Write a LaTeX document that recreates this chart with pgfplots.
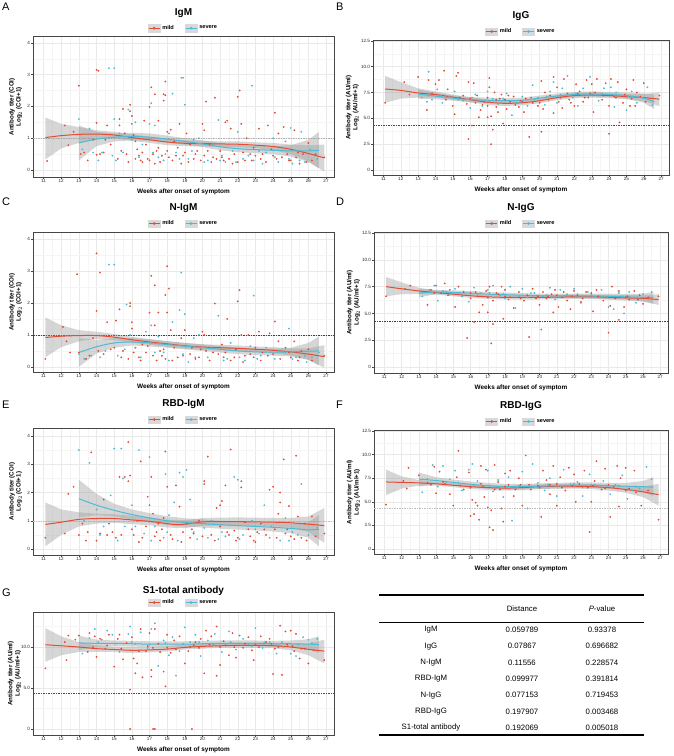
\documentclass[border=0pt]{standalone}
\usepackage{fontspec}
\setmainfont{Liberation Sans}
\usepackage{pgfplots}
\pgfplotsset{compat=1.18}
\definecolor{mildc}{HTML}{E64B35}
\definecolor{sevc}{HTML}{4DBBD5}
\definecolor{bandc}{HTML}{999999}
\pgfplotsset{
  panel/.style={
    scale only axis, anchor=south west,
    xmin=10.4, xmax=27.45,
    xtick={11,...,27}, minor xtick={11.5,12.5,...,26.5},
    grid=both, major grid style={gray!17, line width=0.35pt}, minor grid style={gray!8, line width=0.3pt},
    axis line style={gray!55!black, line width=0.6pt},
    tick pos=left, tick align=outside, major tick length=1.6pt, minor tick length=0pt,
    tick style={gray!55!black, line width=0.4pt},
    ticklabel style={font=\fontsize{4.6}{5}\selectfont, text=black!85},
    xticklabel style={inner sep=0.4pt},
    yticklabel style={inner sep=1.2pt},
    /pgf/number format/assume math mode=true,
    xlabel={Weeks after onset of symptom},
    xlabel style={font=\bfseries\fontsize{6.4}{7}\selectfont, at={(axis description cs:0.5,0)}, anchor=center, yshift=-15pt},
    title style={font=\bfseries\fontsize{10}{11}\selectfont, at={(axis description cs:0.5,1)}, anchor=center, yshift=18pt},
    legend style={at={(axis description cs:0.5,1)}, anchor=center, yshift=8.5pt, draw=none, fill=none,
      font=\bfseries\fontsize{5.6}{6}\selectfont, legend columns=2,
      /tikz/every even column/.append style={column sep=9pt}, inner sep=0pt},
    legend cell align=left,
  },
  coi/.style={ytick={0,1,2,3,4}, minor ytick={0.5,1.5,2.5,3.5},
    ylabel={Antibody titer (COI)\\Log$_2$ (COI+1)},
    ylabel style={font=\bfseries\fontsize{6.2}{7.2}\selectfont, align=center, anchor=center, at={(axis description cs:-0.058,0.5)}}},
  au/.style={ytick={0,2.5,5,7.5,10,12.5}, yticklabels={0,2.5,5.0,7.5,10.0,12.5}, minor ytick={1.25,3.75,6.25,8.75,11.25},
    ylabel={Antibody titer (AU/ml)\\Log$_2$ (AU/ml+1)},
    ylabel style={font=\bfseries\fontsize{6.2}{7.2}\selectfont, align=center, anchor=center, at={(axis description cs:-0.07,0.5)}}},
  mildleg/.style={legend image code/.code={
     \fill[gray!30] (0pt,-3.8pt) rectangle (12pt,3.8pt);
     \draw[mildc, line width=0.9pt] (0.5pt,0pt) -- (11.5pt,0pt);
     \fill[mildc] (6pt,0pt) circle (1.1pt);}},
  sevleg/.style={legend image code/.code={
     \fill[gray!30] (0pt,-3.8pt) rectangle (12pt,3.8pt);
     \draw[sevc, line width=0.9pt] (0.5pt,0pt) -- (11.5pt,0pt);
     \fill[sevc] (6pt,0pt) circle (1.1pt);}},
  mpts/.style={only marks, mark=*, mark size=0.7pt, mildc, mark options={draw=none, fill=mildc, fill opacity=0.9}, forget plot},
  spts/.style={only marks, mark=*, mark size=0.7pt, sevc, mark options={draw=none, fill=sevc, fill opacity=0.9}, forget plot},
  bfill/.style={fill=bandc, fill opacity=0.4, draw=none, no marks, forget plot},
  mline/.style={mildc, line width=1pt, smooth, no marks, forget plot},
  sline/.style={sevc, line width=1pt, smooth, no marks, forget plot},
  dashl/.style={gray!60, dash pattern=on 1.5pt off 1pt, line width=0.5pt, no marks, forget plot},
}
\newcommand{\legs}{\addlegendimage{mildleg}\addlegendentry{mild}\addlegendimage{sevleg}\addlegendentry{severe}}
\begin{document}
\begin{tikzpicture}
\path[use as bounding box] (0,0) rectangle (674pt,-756pt);
\tikzset{plab/.style={anchor=north west, font=\fontsize{11}{11}\selectfont, inner sep=0pt}}
\node[plab] at (2pt,-3pt) {A};
\node[plab] at (336pt,-3pt) {B};
\node[plab] at (2pt,-198pt) {C};
\node[plab] at (336pt,-198pt) {D};
\node[plab] at (2pt,-401pt) {E};
\node[plab] at (336pt,-401pt) {F};
\node[plab] at (2pt,-589pt) {G};

% ---------------- A ----------------
\begin{axis}[panel, coi, at={(33pt,-177pt)}, width=301pt, height=140.3pt, ymin=-0.22, ymax=4.19, title={IgM}]
\legs
\addplot[mpts] coordinates {(11.2,0.28)(12.2,1.4)(12.4,0.78)(12.7,1.2)(13,2.65)(13.3,0.55)(13.5,0.3)(13.8,0.95)(14,3.15)(14.1,3.12)(14,1.48)(14,0.48)(14.2,0.5)(14.4,0.55)(14.6,1.4)(14.8,0.8)(15.2,0.35)(15.3,1.6)(15.3,1.4)(15.5,1.92)(15.6,1.15)(15.8,0.25)(15.9,2.05)(15.9,1.85)(16,1.7)(16,1.45)(16.1,1.1)(16.2,0.9)(16.3,0.65)(16.4,0.45)(16.5,0.3)(16.6,0.55)(16.7,1.55)(16.8,0.8)(17,1.98)(17.1,2.6)(17.3,2.38)(17.2,0.5)(17.3,0.2)(17.5,1.55)(17.5,0.7)(17.7,0.45)(17.8,2.18)(17.8,2.38)(17.9,2.78)(17.9,2.35)(18,1.2)(18,0.6)(18.2,1.27)(18.4,0.9)(18.5,0.45)(18.7,1.45)(18.8,0.2)(19,0.55)(19.1,1.15)(19.3,0.8)(19.5,0.35)(19.9,0.3)(20,1.45)(20.1,1.25)(20.1,0.45)(20.2,2.15)(20.4,0.8)(20.6,0.4)(20.7,2.27)(21,0.6)(21.2,0.3)(21.3,1.5)(21.4,1.55)(21.6,1.3)(21.7,0.2)(21.8,0.5)(22,2.3)(22.1,2.5)(22.2,1.45)(22.4,0.3)(22.5,1.0)(22.7,0.5)(23,0.45)(23.2,1.3)(23.4,0.5)(23.7,1.4)(23.9,0.65)(24,0.45)(24.1,1.8)(24.3,1.15)(24.6,1.35)(24.8,0.5)(25,0.3)(25.2,1.25)(25.4,0.55)(25.5,0.2)(25.7,0.5)(26,0.85)(26.2,0.3)(26.9,0.4)(16.9,0.35)(18.6,0.7)(19.7,0.6)(20.8,0.35)(22.9,0.7)(24.5,0.4)};
\addplot[mpts] coordinates {(13.1,0.5)(14.5,0.95)(15.4,0.6)(15.7,0.5)(16.2,0.35)(16.6,0.25)(17.0,0.3)(17.4,0.6)(17.6,0.25)(18.1,0.4)(18.3,0.3)(18.9,0.45)(19.2,0.25)(19.6,0.5)(20.3,0.6)(20.5,0.25)(21.1,0.4)(21.5,0.35)(22.0,0.25)(22.3,0.55)(22.8,0.3)(23.3,0.35)(23.6,0.25)(24.2,0.35)(24.9,0.3)(25.3,0.4)(25.9,0.25)(26.4,0.5)};
\addplot[spts] coordinates {(13,1.6)(13.2,0.65)(13.6,1.3)(13.8,0.55)(14.3,0.55)(14.7,3.2)(15,3.2)(14.9,0.45)(15,1.6)(15.1,0.3)(15.3,1.15)(15.8,1.9)(16,0.95)(16.2,1.5)(16.6,0.8)(17,1.45)(17.1,2.1)(17.3,1.4)(17.5,0.4)(17.8,0.3)(18.1,1.15)(18.3,2.4)(18.5,0.55)(18.8,2.9)(18.9,2.9)(19,2.05)(19.2,0.35)(19.5,0.95)(19.8,1.0)(20.3,0.3)(20.6,0.8)(20.9,1.57)(21.1,0.45)(21.3,0.25)(21.7,0.6)(22,1.2)(22.3,0.35)(22.8,2.65)(22.9,0.3)(23.2,0.6)(23.6,0.55)(24,1.0)(24.3,0.25)(24.7,0.9)(25,1.32)(25.1,0.2)(25.6,1.2)(25.5,0.3)(26.1,0.65)(26.5,0.35)(14.1,0.3)(15.5,0.55)(16.4,0.4)(17.2,0.55)(17.9,0.5)(18.7,0.35)(19.4,0.6)(20.1,0.25)(21.0,0.3)(21.9,0.25)(22.6,0.45)(23.4,0.2)(24.1,0.4)(24.9,0.35)(25.8,0.25)};
\addplot[dashl] coordinates {(10.4,1)(27.45,1)};
\addplot[bfill] coordinates {(11.1,1.65)(12,1.45)(13,1.35)(14,1.25)(15,1.2)(16,1.12)(17,1.05)(18,0.98)(19,0.93)(20,0.92)(21,0.9)(22,0.9)(23,0.87)(24,0.85)(25,0.8)(26,0.78)(26.9,0.8)(26.9,-0.05)(26,0.27)(25,0.5)(24,0.63)(23,0.69)(22,0.72)(21,0.73)(20,0.74)(19,0.75)(18,0.78)(17,0.85)(16,0.92)(15,1.0)(14,1.0)(13,0.85)(12,0.68)(11.1,0.33)} -- cycle;
\addplot[bfill] coordinates {(13,1.4)(14,1.2)(15,1.15)(16,1.17)(17,1.15)(18,1.08)(19,1.0)(20,0.93)(21,0.84)(22,0.78)(23,0.75)(24,0.75)(25,0.78)(26,0.95)(26.6,1.2)(26.6,0.05)(26,0.25)(25,0.42)(24,0.5)(23,0.53)(22,0.56)(21,0.62)(20,0.72)(19,0.8)(18,0.86)(17,0.92)(16,0.93)(15,0.9)(14,0.75)(13,0.3)} -- cycle;
\addplot[mline] coordinates {(11.1,1.02)(12,1.08)(13,1.12)(14,1.13)(15,1.1)(16,1.02)(17,0.95)(18,0.88)(19,0.84)(20,0.83)(21,0.82)(22,0.81)(23,0.78)(24,0.74)(25,0.65)(26,0.52)(26.9,0.38)};
\addplot[sline] coordinates {(13,0.85)(14,0.97)(15,1.03)(16,1.06)(17,1.03)(18,0.97)(19,0.9)(20,0.82)(21,0.73)(22,0.67)(23,0.64)(24,0.62)(25,0.6)(26,0.6)(26.6,0.62)};
\end{axis}

% ---------------- B ----------------
\begin{axis}[panel, au, at={(373pt,-175pt)}, width=296pt, height=135pt, ymin=-0.48, ymax=12.57, title={IgG}]
\legs
\addplot[mpts] coordinates {(11.1,6.5)(12.2,8.5)(12.5,7.3)(13,9.0)(13.5,5.8)(13.6,8.7)(14,8.3)(14.2,8.7)(14.5,9.6)(14.7,7.8)(15,6.2)(15.1,5.4)(15.2,9.1)(15.3,9.4)(15.6,7.2)(15.9,3.0)(15.9,8.5)(16,6.9)(16.1,4.3)(16.2,8.4)(16.3,6.5)(16.5,5.1)(16.6,5.8)(16.8,6.6)(17,5.1)(17,7.0)(17.1,8.9)(17.1,8.0)(17.2,5.2)(17.2,2.5)(17.3,3.9)(17.4,7.5)(17.5,6.1)(17.6,5.6)(17.8,7.3)(17.9,4.5)(18,6.8)(18.1,5.9)(18.3,6.6)(18.5,7.1)(18.8,6.1)(19.1,5.6)(19.2,6.9)(19.4,3.2)(19.6,6.5)(19.9,6.2)(20.1,3.7)(20.1,8.6)(20.2,5.9)(20.3,7.5)(20.5,6.8)(20.8,5.5)(20.8,9.0)(21.0,8.0)(21.3,6.0)(21.4,8.8)(21.6,7.4)(21.8,6.5)(22,6.2)(22.1,8.3)(22.3,7.6)(22.5,6.6)(22.7,8.7)(22.9,7.4)(23.0,8.3)(23.1,5.6)(23.3,8.8)(23.6,6.8)(23.8,8.4)(24,6.2)(24,3.5)(24.1,8.8)(24.3,7.1)(24.5,8.5)(24.6,4.6)(24.8,6.5)(25,7.8)(25.2,6.2)(25.4,8.7)(25.5,6.2)(25.6,7.5)(26,8.4)(26.1,6.6)(26.9,7.2)(16.7,6.3)(17.7,6.9)(18.9,6.7)(21.1,6.6)(22.8,7.0)};
\addplot[mpts] coordinates {(13.8,7.4)(14.6,6.8)(15.4,7.0)(15.8,6.4)(16.4,7.2)(17.0,6.2)(17.5,6.8)(18.2,7.2)(18.6,6.3)(19.0,6.6)(19.5,7.0)(20.0,6.5)(20.6,7.2)(21.2,7.0)(21.7,6.8)(22.2,7.4)(22.6,7.0)(23.2,7.5)(23.7,7.2)(24.4,7.0)(24.9,7.3)(25.3,6.9)(25.8,7.1)};
\addplot[spts] coordinates {(13.2,7.0)(13.5,6.6)(13.6,9.5)(13.8,6.8)(14.1,7.8)(14.4,6.5)(14.8,7.1)(15.1,7.6)(15.6,6.7)(16,6.0)(16.3,7.3)(16.7,6.2)(17.0,7.6)(17.3,6.9)(17.6,6.4)(18.1,7.4)(18.4,5.3)(18.7,6.5)(19.0,7.1)(19.3,6.2)(19.6,8.2)(19.9,7.0)(20.3,6.3)(20.6,7.6)(20.8,8.5)(21.0,6.5)(21.3,7.9)(21.6,9.1)(21.9,7.0)(22.2,6.2)(22.5,7.9)(22.9,9.0)(23.1,7.4)(23.4,6.7)(23.7,7.9)(24.1,8.0)(24.3,6.1)(24.6,7.2)(25,5.8)(25.3,7.6)(25.6,6.5)(26.2,8.0)(26.5,6.3)(14.3,7.2)(15.3,6.8)(16.1,7.0)(17.1,6.6)(17.9,6.9)(18.9,6.6)(19.7,6.8)(20.4,7.1)(21.2,7.3)(22.1,7.4)(22.8,7.2)(23.6,7.4)(24.4,7.5)(25.1,7.1)(25.9,7.0)};
\addplot[dashl, black!70] coordinates {(10.4,4.3)(27.45,4.3)};
\addplot[bfill] coordinates {(11.1,9.1)(12,8.5)(13,7.9)(14,7.6)(15,7.3)(16,7.05)(17,6.8)(18,6.7)(19,6.75)(20,6.95)(21,7.25)(22,7.45)(23,7.5)(24,7.45)(25,7.35)(26,7.35)(26.9,7.5)(26.9,6.2)(26,6.65)(25,6.85)(24,6.95)(23,7.0)(22,6.95)(21,6.75)(20,6.45)(19,6.25)(18,6.2)(17,6.3)(16,6.55)(15,6.8)(14,7.0)(13,7.0)(12,6.9)(11.1,6.5)} -- cycle;
\addplot[bfill] coordinates {(13,7.8)(14,7.45)(15,7.2)(16,7.05)(17,7.0)(18,6.95)(19,7.0)(20,7.2)(21,7.4)(22,7.55)(23,7.6)(24,7.55)(25,7.5)(26,7.4)(26.6,7.3)(26.6,5.9)(26,6.5)(25,6.9)(24,7.05)(23,7.1)(22,7.05)(21,6.9)(20,6.7)(19,6.5)(18,6.45)(17,6.5)(16,6.55)(15,6.7)(14,6.85)(13,6.9)} -- cycle;
\addplot[mline] coordinates {(11.1,7.83)(12,7.7)(13,7.45)(14,7.3)(15,7.05)(16,6.8)(17,6.55)(18,6.45)(19,6.5)(20,6.7)(21,7.0)(22,7.2)(23,7.25)(24,7.2)(25,7.1)(26,7.0)(26.9,6.85)};
\addplot[sline] coordinates {(13,7.35)(14,7.15)(15,6.95)(16,6.8)(17,6.75)(18,6.7)(19,6.75)(20,6.95)(21,7.15)(22,7.3)(23,7.35)(24,7.3)(25,7.2)(26,6.95)(26.6,6.6)};
\end{axis}

% ---------------- C ----------------
\begin{axis}[panel, coi, at={(33pt,-372pt)}, width=301pt, height=140pt, ymin=-0.16, ymax=4.22, title={N-IgM}]
\legs
\addplot[mpts] coordinates {(11.1,0.25)(12.1,1.25)(12.3,0.8)(12.5,0.45)(12.9,2.9)(13.4,0.25)(13.6,0.35)(13.8,0.9)(14,3.55)(14,1.75)(14.1,0.5)(14.2,2.95)(14.4,0.4)(14.6,1.4)(15,0.6)(15.1,1.45)(15.3,1.8)(15.5,0.5)(15.8,0.25)(15.9,2.0)(15.9,1.9)(16,1.2)(16,1.4)(16.2,0.6)(16.4,0.3)(16.6,0.7)(16.8,0.45)(17,1.7)(17.1,2.85)(17.3,2.55)(17.3,1.3)(17.4,0.2)(17.5,1.7)(17.6,0.5)(17.9,0.25)(17.9,2.25)(18,3.15)(18,1.7)(18.1,2.45)(18.2,1.15)(18.4,0.6)(18.6,0.3)(18.8,0.9)(19,1.15)(19.3,0.4)(19.6,0.25)(20,1.1)(20.1,1.0)(20.2,0.5)(20.7,1.98)(20.9,0.4)(21.1,0.7)(21.4,1.5)(21.6,0.2)(21.8,0.3)(22,2.05)(22.1,2.4)(22.2,1.0)(22.4,0.35)(22.6,1.0)(22.9,0.3)(23.2,1.1)(23.4,0.45)(23.8,1.05)(24.1,1.42)(24,0.4)(24.3,0.8)(24.7,0.6)(25,0.3)(25.2,0.8)(25.4,0.2)(25.6,0.5)(26,0.55)(26.9,0.35)(16.9,0.65)(17.7,0.35)(19.9,0.55)(21.3,0.45)(23.0,0.6)};
\addplot[mpts] coordinates {(13.0,0.45)(14.8,0.55)(15.4,0.3)(16.1,0.45)(16.5,0.2)(17.2,0.35)(17.8,0.55)(18.3,0.2)(18.9,0.35)(19.4,0.6)(19.8,0.3)(20.4,0.2)(20.6,0.45)(21.2,0.3)(21.9,0.55)(22.3,0.15)(22.7,0.4)(23.3,0.2)(23.7,0.35)(24.4,0.25)(24.9,0.45)(25.5,0.3)(26.2,0.2)};
\addplot[spts] coordinates {(13,0.4)(13.3,0.25)(13.7,0.35)(14.5,0.5)(14.7,3.2)(15,3.2)(15.2,0.35)(15.7,1.95)(15.9,1.0)(16.2,0.6)(16.8,1.1)(17.1,1.3)(17.5,0.95)(17.8,0.45)(18.3,1.4)(18.7,1.78)(18.8,2.95)(19,1.65)(19.2,0.15)(19.5,0.9)(19.8,1.0)(20.3,0.3)(20.9,1.6)(21.2,0.2)(21.6,0.75)(22.1,0.3)(22.7,0.65)(22.9,2.23)(23.1,0.25)(23.6,0.6)(24.1,0.25)(24.7,0.45)(24.9,1.2)(25.3,0.3)(25.8,0.35)(26.2,0.3)(26.6,0.45)(14.2,0.3)(15.6,0.55)(16.5,0.3)(17.3,0.45)(18.1,0.2)(18.9,0.4)(19.6,0.3)(20.5,0.6)(21.4,0.25)(22.4,0.2)(23.3,0.35)(24.3,0.5)(25.1,0.25)(25.9,0.15)};
\addplot[dashl, black!75] coordinates {(10.4,1)(27.45,1)};
\addplot[bfill] coordinates {(11.1,1.55)(12,1.3)(13,1.15)(14,1.1)(15,1.03)(16,0.94)(17,0.87)(18,0.81)(19,0.75)(20,0.71)(21,0.69)(22,0.67)(23,0.64)(24,0.62)(25,0.58)(26,0.58)(26.9,0.68)(26.9,-0.02)(26,0.22)(25,0.36)(24,0.42)(23,0.46)(22,0.49)(21,0.51)(20,0.53)(19,0.57)(18,0.63)(17,0.69)(16,0.76)(15,0.84)(14,0.88)(13,0.8)(12,0.62)(11.1,0.3)} -- cycle;
\addplot[bfill] coordinates {(13,0.9)(14,0.85)(15,0.9)(16,0.9)(17,0.86)(18,0.8)(19,0.75)(20,0.7)(21,0.65)(22,0.6)(23,0.57)(24,0.57)(25,0.6)(26,0.75)(26.6,0.95)(26.6,0.05)(26,0.22)(25,0.33)(24,0.35)(23,0.37)(22,0.4)(21,0.45)(20,0.5)(19,0.55)(18,0.6)(17,0.64)(16,0.67)(15,0.6)(14,0.42)(13,0.0)} -- cycle;
\addplot[mline] coordinates {(11.1,0.92)(12,0.96)(13,0.98)(14,0.98)(15,0.93)(16,0.85)(17,0.78)(18,0.72)(19,0.66)(20,0.62)(21,0.6)(22,0.58)(23,0.55)(24,0.52)(25,0.47)(26,0.4)(26.9,0.32)};
\addplot[sline] coordinates {(13,0.45)(14,0.63)(15,0.75)(16,0.78)(17,0.75)(18,0.7)(19,0.65)(20,0.6)(21,0.55)(22,0.5)(23,0.47)(24,0.46)(25,0.47)(26,0.49)(26.6,0.5)};
\end{axis}

% ---------------- D ----------------
\begin{axis}[panel, au, at={(374pt,-373pt)}, width=294pt, height=141pt, ymin=-0.56, ymax=12.6, title={N-IgG}]
\legs
\addplot[mpts] coordinates {(11.1,6.6)(12.2,7.3)(12.5,7.6)(13.5,5.8)(13.7,7.2)(14,7.6)(14.5,7.8)(14.8,7.2)(15.1,5.6)(15.3,7.5)(15.6,7.0)(15.8,2.7)(16,6.4)(16.2,4.2)(16.3,7.0)(16.5,5.1)(16.7,5.8)(16.9,7.1)(17,5.1)(17.1,7.5)(17.2,2.2)(17.3,4.0)(17.3,6.2)(17.6,6.8)(17.8,7.5)(17.9,4.5)(18,7.2)(18.2,6.3)(18.5,5.5)(18.8,7.0)(19.1,6.2)(19.4,2.8)(19.6,7.3)(20,5.8)(20.1,3.5)(20.2,7.0)(20.5,6.6)(20.8,5.1)(20.9,7.2)(21.1,5.6)(21.4,7.0)(21.6,6.2)(21.8,5.4)(22,7.1)(22.2,6.7)(22.4,6.0)(22.7,7.0)(23.1,5.2)(23.3,7.2)(23.7,6.2)(24,3.2)(24.1,5.7)(24.2,7.5)(24.6,7.1)(24.6,4.4)(24.9,5.6)(25.2,6.3)(25.5,7.1)(25.8,6.7)(26,5.9)(26.9,6.6)(14.3,6.9)(16.0,6.9)(18.0,6.6)(19.8,6.4)(21.0,6.7)(23.0,6.9)(25.0,6.5)};
\addplot[mpts] coordinates {(13.9,6.9)(14.7,6.7)(15.5,6.6)(16.4,6.6)(17.0,6.5)(17.5,6.9)(18.3,6.5)(18.9,6.4)(19.3,6.7)(19.9,6.6)(20.4,6.4)(20.7,6.8)(21.3,6.5)(21.9,6.6)(22.5,6.4)(23.4,6.6)(23.9,6.5)(24.4,6.4)(25.1,6.6)(25.7,6.3)(26.3,6.5)};
\addplot[spts] coordinates {(13.2,6.6)(13.6,7.2)(13.9,7.6)(14.1,6.2)(14.4,7.1)(14.8,6.8)(15.1,7.3)(15.5,6.6)(15.9,6.1)(16.2,7.4)(16.6,6.9)(17.0,7.2)(17.3,7.6)(17.7,6.7)(18.0,6.4)(18.3,7.5)(18.6,5.5)(19.0,7.3)(19.3,6.5)(19.7,6.9)(20.2,6.6)(20.6,7.4)(20.9,6.3)(21.2,7.2)(21.6,6.8)(22.0,7.3)(22.4,6.1)(22.8,7.0)(23.2,6.6)(23.6,7.2)(24.0,5.6)(24.3,5.4)(24.6,6.9)(24.9,5.0)(25.2,7.0)(25.6,6.0)(26.0,6.8)(26.5,7.0)(14.6,7.0)(15.3,6.9)(16.4,6.7)(17.1,6.9)(17.9,6.8)(18.8,6.6)(19.5,6.9)(20.4,6.7)(21.4,6.6)(22.2,6.8)(23.0,6.7)(23.9,6.5)(24.8,6.6)(25.8,6.4)};
\addplot[dashl, black!75] coordinates {(10.4,4.3)(27.45,4.3)};
\addplot[bfill] coordinates {(11.1,8.4)(12,7.9)(13,7.4)(14,7.15)(15,7.0)(16,6.85)(17,6.75)(18,6.7)(19,6.7)(20,6.7)(21,6.72)(22,6.75)(23,6.75)(24,6.72)(25,6.7)(26,6.7)(26.9,6.8)(26.9,5.8)(26,6.1)(25,6.2)(24,6.28)(23,6.35)(22,6.35)(21,6.32)(20,6.3)(19,6.3)(18,6.3)(17,6.35)(16,6.45)(15,6.6)(14,6.75)(13,6.8)(12,6.8)(11.1,6.6)} -- cycle;
\addplot[bfill] coordinates {(13,7.3)(14,7.2)(15,7.15)(16,7.1)(17,7.0)(18,6.95)(19,6.9)(20,6.85)(21,6.85)(22,6.85)(23,6.85)(24,6.85)(25,6.8)(26,6.85)(26.6,7.0)(26.6,5.9)(26,6.15)(25,6.3)(24,6.35)(23,6.4)(22,6.45)(21,6.45)(20,6.45)(19,6.5)(18,6.55)(17,6.6)(16,6.7)(15,6.75)(14,6.8)(13,6.5)} -- cycle;
\addplot[mline] coordinates {(11.1,7.5)(12,7.3)(13,7.1)(14,6.95)(15,6.8)(16,6.65)(17,6.55)(18,6.5)(19,6.5)(20,6.5)(21,6.52)(22,6.55)(23,6.55)(24,6.5)(25,6.45)(26,6.4)(26.9,6.3)};
\addplot[sline] coordinates {(13,6.9)(14,7.0)(15,6.95)(16,6.9)(17,6.8)(18,6.75)(19,6.7)(20,6.65)(21,6.65)(22,6.65)(23,6.63)(24,6.6)(25,6.55)(26,6.5)(26.6,6.5)};
\end{axis}

% ---------------- E ----------------
\begin{axis}[panel, coi, at={(33pt,-555pt)}, width=301pt, height=127pt, ymin=-0.21, ymax=4.28, title={RBD-IgM}]
\legs
\addplot[mpts] coordinates {(11.1,0.4)(12.2,0.55)(12.4,1.95)(12.7,2.2)(13,0.5)(13.2,0.9)(13.5,0.6)(13.7,3.42)(14,0.3)(14.2,0.55)(14.4,1.75)(14.6,0.5)(14.9,0.6)(15.1,0.4)(15.3,2.55)(15.6,2.55)(15.8,2.4)(15.8,3.78)(15.9,2.6)(16.1,0.5)(16.3,1.0)(16.5,3.1)(16.6,0.4)(16.9,1.85)(17,1.55)(17.1,2.55)(17.2,1.25)(17.4,0.6)(17.6,0.3)(17.8,1.1)(17.9,3.45)(18,2.2)(18.2,0.5)(18.5,2.25)(18.7,1.5)(18.9,0.6)(19.1,0.9)(19.5,0.55)(19.8,1.0)(20.1,2.4)(20.1,2.3)(20.3,3.27)(20.5,0.5)(20.8,1.45)(21,1.55)(21.1,1.7)(21.3,2.25)(21.5,0.5)(21.6,3.52)(21.8,0.65)(22.2,2.4)(22.2,2.18)(22.4,0.95)(22.6,0.7)(22.9,0.3)(23.3,0.9)(23.6,0.5)(23.8,2.1)(24,2.2)(24.1,0.7)(24.3,1.25)(24.4,2.0)(24.4,1.65)(24.6,3.17)(24.9,1.52)(25,0.45)(25.3,3.3)(25.4,1.15)(25.6,0.4)(25.8,0.9)(26.2,1.15)(26.9,0.55)(16.8,0.8)(17.7,0.7)(19.3,0.4)(21.0,0.8)(22.0,0.4)(23.1,0.6)(24.8,0.7)};
\addplot[mpts] coordinates {(13.4,0.3)(14.7,0.9)(15.4,0.5)(16.0,0.7)(16.4,0.25)(17.3,0.45)(17.5,0.9)(18.3,0.35)(18.8,0.25)(19.4,0.7)(20.0,0.45)(20.7,0.3)(21.4,0.6)(21.9,0.3)(22.7,0.45)(23.0,0.25)(23.5,0.7)(24.2,0.4)(24.7,0.55)(25.2,0.35)(25.9,0.3)(26.4,0.45)};
\addplot[spts] coordinates {(13,3.5)(13.3,1.0)(13.6,3.05)(14,1.4)(14.4,0.8)(14.8,1.9)(15,3.55)(15.4,3.55)(15.5,2.5)(15.6,0.8)(16,1.55)(16.4,3.5)(16.7,0.55)(17,3.25)(17.3,0.8)(17.8,0.4)(17.9,2.65)(18.1,1.2)(18.4,1.65)(18.7,2.7)(18.9,2.55)(19.1,2.8)(19.3,1.75)(19.7,0.35)(20.1,0.75)(20.5,1.0)(20.9,0.35)(21.3,0.45)(21.8,2.55)(22.0,2.45)(22.3,0.5)(22.8,1.0)(23.2,0.55)(23.5,1.55)(23.9,0.8)(24.4,0.3)(24.7,1.1)(25.1,0.6)(25.6,2.3)(26.0,0.5)(26.5,0.75)(14.2,0.5)(15.2,0.3)(16.2,0.8)(17.1,0.3)(18.0,0.6)(18.6,0.3)(19.5,0.6)(20.3,0.4)(21.1,0.6)(22.1,0.35)(23.0,0.7)(23.8,0.4)(24.9,0.3)(25.4,0.5)};
\addplot[dashl, gray!45] coordinates {(10.4,1)(27.45,1)};
\addplot[bfill] coordinates {(11.1,1.65)(12,1.4)(13,1.3)(14,1.25)(15,1.23)(16,1.18)(17,1.12)(18,1.04)(19,1.02)(20,1.1)(21,1.11)(22,1.12)(23,1.11)(24,1.1)(25,1.1)(26,1.15)(26.9,1.45)(26.9,0.22)(26,0.6)(25,0.76)(24,0.8)(23,0.81)(22,0.83)(21,0.83)(20,0.82)(19,0.74)(18,0.76)(17,0.84)(16,0.88)(15,0.93)(14,0.9)(13,0.8)(12,0.5)(11.1,0.1)} -- cycle;
\addplot[bfill] coordinates {(13,2.45)(14,1.95)(15,1.6)(16,1.4)(17,1.27)(18,1.16)(19,1.09)(20,1.05)(21,1.0)(22,0.97)(23,0.94)(24,0.92)(25,0.9)(26,0.95)(26.6,1.2)(26.6,0.1)(26,0.4)(25,0.56)(24,0.62)(23,0.66)(22,0.69)(21,0.72)(20,0.76)(19,0.8)(18,0.85)(17,0.94)(16,1.05)(15,1.15)(14,1.2)(13,1.12)} -- cycle;
\addplot[mline] coordinates {(11.1,0.87)(12,0.95)(13,1.05)(14,1.08)(15,1.08)(16,1.03)(17,0.98)(18,0.9)(18.5,0.86)(19,0.88)(20,0.96)(21,0.97)(22,0.97)(23,0.96)(24,0.95)(25,0.93)(26,0.88)(26.9,0.83)};
\addplot[sline] coordinates {(13,1.78)(14,1.55)(15,1.37)(16,1.22)(17,1.1)(18,1.0)(19,0.94)(20,0.9)(21,0.86)(22,0.83)(23,0.8)(24,0.77)(25,0.73)(26,0.68)(26.6,0.7)};
\end{axis}

% ---------------- F ----------------
\begin{axis}[panel, au, at={(374pt,-554pt)}, width=294pt, height=124pt, ymin=-0.53, ymax=12.6, title={RBD-IgG}]
\legs
\addplot[mpts] coordinates {(11.1,4.7)(12.1,7.2)(12.3,6.4)(12.4,8.6)(13,7.8)(13.5,7.0)(13.9,8.7)(14,5.9)(14.2,8.2)(14.5,6.9)(14.8,5.8)(15,4.6)(15.2,7.6)(15.3,10.4)(15.6,6.3)(15.9,8.1)(16,3.5)(16.1,5.2)(16.2,3.7)(16.3,4.9)(16.4,4.6)(16.5,3.1)(16.6,8.8)(16.8,5.5)(16.9,8.4)(17,4.4)(17.1,2.3)(17.2,4.1)(17.3,2.0)(17.4,8.9)(17.6,7.1)(17.8,4.3)(17.9,2.9)(18,8.0)(18.2,6.8)(18.3,8.3)(18.5,5.6)(18.8,7.5)(19,4.6)(19.2,9.9)(19.5,6.3)(19.9,6.7)(20.1,3.4)(20.2,8.3)(20.4,7.3)(20.6,5.8)(20.8,8.8)(21,4.6)(21.2,7.6)(21.5,6.2)(21.7,8.6)(22,7.9)(22.1,5.0)(22.3,6.9)(22.6,8.3)(22.9,1.8)(23,5.0)(23.2,7.2)(23.3,9.3)(23.6,6.3)(23.8,8.5)(24,6.8)(24.1,3.4)(24.5,8.8)(24.6,4.5)(24.7,7.5)(25,8.6)(25.2,6.4)(25.5,8.3)(25.9,4.6)(26.9,3.1)(16.7,6.6)(17.7,6.3)(18.9,6.8)(21.0,6.9)(22.8,6.5)};
\addplot[mpts] coordinates {(13.7,6.8)(14.4,7.1)(15.4,6.7)(16.0,6.5)(16.6,6.9)(17.4,6.3)(18.0,6.6)(18.6,6.3)(19.4,6.8)(20.0,6.5)(20.6,6.8)(21.3,6.5)(21.9,6.7)(22.5,6.6)(23.1,6.7)(23.8,6.4)(24.3,6.6)(25.0,6.2)(25.6,6.0)(26.3,6.2)};
\addplot[spts] coordinates {(13.2,6.0)(13.5,7.4)(13.8,8.9)(14.1,6.6)(14.4,8.8)(14.8,7.4)(15.1,8.3)(15.5,6.2)(15.9,8.4)(16.1,9.0)(16.4,7.2)(16.8,6.7)(17,8.3)(17.3,6.1)(17.6,7.3)(17.9,5.5)(18.2,7.6)(18.4,3.0)(18.7,6.5)(19,8.2)(19.3,4.3)(19.6,9.0)(19.9,7.0)(20.3,6.2)(20.6,7.5)(21.0,5.6)(21.4,8.4)(21.8,6.9)(22.2,7.1)(22.5,5.6)(22.9,7.9)(23.2,6.8)(23.7,7.2)(24.1,5.8)(24.4,6.8)(24.8,7.8)(25.1,5.3)(25.4,6.2)(25.8,6.4)(26.2,8.7)(26.5,7.4)(14.6,7.1)(15.3,7.0)(16.2,6.8)(17.1,6.7)(17.8,6.6)(18.8,6.7)(19.5,6.6)(20.5,6.8)(21.2,6.7)(22.0,6.9)(23.0,6.8)(23.9,6.7)(24.6,6.7)(25.6,6.6)};
\addplot[dashl, gray!50] coordinates {(10.4,4.34)(27.45,4.34)};
\addplot[bfill] coordinates {(11.1,8.4)(12,7.7)(13,7.3)(14,7.1)(15,6.95)(16,6.85)(17,6.75)(18,6.7)(19,6.75)(20,6.85)(21,6.9)(22,6.9)(23,6.85)(24,6.8)(25,6.65)(26,6.6)(26.9,6.9)(26.9,4.6)(26,5.5)(25,5.95)(24,6.2)(23,6.35)(22,6.4)(21,6.4)(20,6.35)(19,6.25)(18,6.2)(17,6.25)(16,6.35)(15,6.55)(14,6.7)(13,6.7)(12,6.4)(11.1,5.7)} -- cycle;
\addplot[bfill] coordinates {(13,8.1)(14,7.6)(15,7.35)(16,7.15)(17,7.0)(18,6.9)(19,6.9)(20,6.95)(21,7.0)(22,7.05)(23,7.05)(24,7.0)(25,7.0)(26,7.2)(26.6,7.6)(26.6,5.6)(26,6.0)(25,6.3)(24,6.4)(23,6.45)(22,6.45)(21,6.4)(20,6.35)(19,6.3)(18,6.3)(17,6.4)(16,6.55)(15,6.75)(14,6.9)(13,6.6)} -- cycle;
\addplot[mline] coordinates {(11.1,7.1)(12,7.05)(13,7.0)(14,6.9)(15,6.75)(16,6.6)(17,6.5)(18,6.45)(19,6.5)(20,6.6)(21,6.65)(22,6.65)(23,6.6)(24,6.5)(25,6.3)(26,6.05)(26.9,5.75)};
\addplot[sline] coordinates {(13,7.4)(14,7.25)(15,7.05)(16,6.85)(17,6.7)(18,6.6)(19,6.6)(20,6.65)(21,6.7)(22,6.75)(23,6.75)(24,6.7)(25,6.65)(26,6.6)(26.6,6.55)};
\end{axis}

% ---------------- G ----------------
\begin{axis}[panel, at={(33pt,-735pt)}, width=301pt, height=123pt, ymin=-0.73, ymax=14.27, title={S1-total antibody},
  title style={yshift=-3pt}, legend style={yshift=1pt},
  ytick={0,5,10}, yticklabels={0,5.0,10.0}, minor ytick={2.5,7.5,12.5},
  ylabel={Antibody titer (AU/ml)\\Log$_2$ (AU/ml+1)},
  ylabel style={font=\bfseries\fontsize{6.2}{7.2}\selectfont, align=center, anchor=center, at={(axis description cs:-0.062,0.5)}}]
\legs
\addplot[mpts] coordinates {(11.1,7.4)(12.2,10.6)(12.3,8.4)(12.4,11.4)(12.8,10.9)(13,11.4)(13.5,9.4)(13.6,11.7)(13.9,11.3)(14,8.8)(14.2,11.0)(14.5,9.8)(14.7,11.5)(15,7.6)(15.2,11.0)(15.3,11.5)(15.5,8.5)(15.7,10.5)(15.9,4.8)(15.9,0)(16,11.2)(16.1,8.6)(16.2,6.8)(16.3,8.0)(16.5,12.2)(16.6,6.3)(16.8,9.5)(17.0,11.7)(17.1,6.4)(17.1,7.2)(17.2,0)(17.3,0)(17.3,12.2)(17.5,10.4)(17.8,7.0)(17.9,5.2)(18,11.5)(18.2,9.3)(18.4,10.8)(18.7,11.3)(19,8.0)(19.2,9.5)(19.4,0)(19.6,10.6)(19.9,11.0)(20.1,6.8)(20.2,12.0)(20.5,11.3)(20.8,12.5)(20.8,6.5)(21.0,7.8)(21.2,10.7)(21.5,9.0)(21.7,11.7)(21.9,8.7)(22.1,11.4)(22.3,9.9)(22.6,11.2)(22.9,8.4)(23.0,10.3)(23.3,11.3)(23.6,10.6)(23.8,11.0)(24.0,6.7)(24.1,9.8)(24.4,12.6)(24.5,6.6)(24.7,11.9)(25.0,12.0)(25.2,9.5)(25.3,11.6)(25.5,8.6)(25.8,9.8)(26.0,8.0)(26.9,8.4)(16.9,10.1)(18.0,9.9)(19.5,10.2)(21.0,10.0)(22.8,9.6)(24.8,10.3)};
\addplot[mpts] coordinates {(13.8,10.0)(14.6,10.2)(15.4,9.8)(16.4,9.5)(17.2,9.9)(17.6,9.4)(18.5,9.7)(19.3,10.0)(19.8,9.9)(20.4,10.3)(21.3,10.2)(21.8,10.0)(22.4,10.4)(23.2,10.0)(23.9,10.4)(24.3,10.0)(25.1,10.1)(25.6,9.8)(26.3,9.6)};
\addplot[spts] coordinates {(13.2,9.2)(13.6,11.1)(13.9,12.2)(14.3,10.9)(14.6,12.0)(14.9,11.5)(15.3,9.4)(15.8,11.6)(15.9,12.5)(16.2,10.4)(16.5,11.8)(16.9,9.9)(17.1,12.2)(17.3,12.9)(17.5,7.7)(17.8,10.8)(18.1,9.0)(18.3,11.2)(18.5,6.5)(18.7,9.5)(19.0,12.4)(19.3,10.6)(19.6,11.5)(19.9,8.9)(20.3,10.8)(20.7,11.6)(21.1,9.4)(21.5,11.9)(21.9,9.7)(22.3,11.0)(22.8,10.1)(23.0,12.3)(23.4,9.9)(23.8,10.6)(24.2,9.2)(24.6,10.0)(25.0,9.2)(25.3,8.9)(25.7,11.2)(26.0,10.9)(26.5,11.0)(14.1,10.6)(15.1,10.4)(16.0,10.6)(17.0,10.3)(17.9,10.5)(18.9,10.4)(19.8,10.6)(20.6,10.3)(21.6,10.6)(22.6,10.4)(23.5,10.5)(24.5,10.6)(25.4,10.3)(26.2,10.5)};
\addplot[dashl, black!70] coordinates {(10.4,4.4)(27.45,4.4)};
\addplot[bfill] coordinates {(11.1,12.3)(12,11.3)(13,10.6)(14,10.2)(15,10.05)(16,10.0)(17,10.0)(18,10.1)(19,10.3)(20,10.4)(21,10.5)(22,10.55)(23,10.55)(24,10.5)(25,10.4)(26,10.4)(26.9,10.9)(26.9,8.0)(26,9.0)(25,9.6)(24,9.85)(23,9.9)(22,9.9)(21,9.9)(20,9.8)(19,9.7)(18,9.45)(17,9.35)(16,9.25)(15,9.4)(14,9.4)(13,9.4)(12,9.0)(11.1,8.2)} -- cycle;
\addplot[bfill] coordinates {(13,11.4)(14,10.9)(15,10.8)(16,10.75)(17,10.7)(18,10.7)(19,10.7)(20,10.75)(21,10.8)(22,10.8)(23,10.8)(24,10.75)(25,10.8)(26,10.95)(26.6,11.3)(26.6,9.3)(26,9.75)(25,10.0)(24,10.05)(23,10.1)(22,10.1)(21,10.1)(20,10.05)(19,10.0)(18,10.0)(17,10.0)(16,10.05)(15,10.1)(14,10.0)(13,9.6)} -- cycle;
\addplot[mline] coordinates {(11.1,10.28)(12,10.15)(13,10.0)(14,9.8)(15,9.7)(16,9.6)(17,9.65)(18,9.75)(19,9.95)(20,10.08)(21,10.15)(22,10.2)(23,10.2)(24,10.16)(25,10.0)(26,9.72)(26.9,9.5)};
\addplot[sline] coordinates {(13,10.5)(14,10.45)(15,10.45)(16,10.4)(17,10.35)(18,10.35)(19,10.35)(20,10.4)(21,10.45)(22,10.45)(23,10.45)(24,10.4)(25,10.4)(26,10.35)(26.6,10.3)};
\end{axis}

% ---------------- Table ----------------
\draw[line width=1.1pt] (379pt,-595pt) -- (644pt,-595pt);
\draw[line width=0.9pt] (379pt,-622pt) -- (644pt,-622pt);
\draw[line width=1.1pt] (379pt,-735pt) -- (644pt,-735pt);
\tikzset{tc/.style={anchor=center, font=\fontsize{7.8}{8}\selectfont, inner sep=0pt}}
\node[tc] at (522pt,-608.5pt) {Distance};
\node[tc] at (602pt,-608.5pt) {\textit{P}-value};
\foreach \nm/\d/\p [count=\i from 0] in {IgM/0.059789/0.93378, IgG/0.07867/0.696682, N-IgM/0.11556/0.228574, RBD-IgM/0.099977/0.391814, N-IgG/0.077153/0.719453, RBD-IgG/0.197907/0.003468, S1-total antibody/0.192069/0.005018}{
  \node[tc] at (431pt,-630pt-16.3pt*\i) {\nm};
  \node[tc] at (522pt,-630pt-16.3pt*\i) {\d};
  \node[tc] at (602pt,-630pt-16.3pt*\i) {\p};
}
\end{tikzpicture}
\end{document}
